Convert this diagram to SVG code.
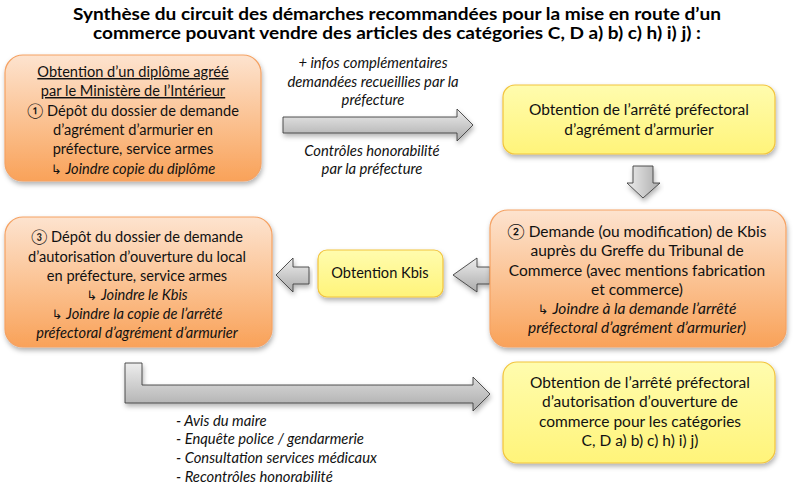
<svg xmlns="http://www.w3.org/2000/svg" width="793" height="489" viewBox="0 0 793 489">
<defs>
<linearGradient id="gOr" x1="0" y1="0" x2="0" y2="1">
<stop offset="0" stop-color="#fde3cf"/>
<stop offset="0.5" stop-color="#fbc394"/>
<stop offset="1" stop-color="#f9a259"/>
</linearGradient>
<linearGradient id="gYe" x1="0" y1="0" x2="0" y2="1">
<stop offset="0" stop-color="#fffcae"/>
<stop offset="1" stop-color="#fff47a"/>
</linearGradient>
<linearGradient id="gAr" x1="0" y1="0" x2="0" y2="1">
<stop offset="0" stop-color="#ededed"/>
<stop offset="1" stop-color="#ababab"/>
</linearGradient>
<linearGradient id="gArV" x1="0" y1="0" x2="1" y2="0">
<stop offset="0" stop-color="#ededed"/>
<stop offset="1" stop-color="#ababab"/>
</linearGradient>
<filter id="sh" x="-10%" y="-10%" width="120%" height="130%">
<feDropShadow dx="1" dy="3" stdDeviation="2.5" flood-color="#000" flood-opacity="0.3"/>
</filter>
</defs>
<style>
.t{font-family:Lato,"Noto Sans","DejaVu Sans",sans-serif;font-size:14.6px;fill:#111;text-anchor:middle}
.b{font-size:15.5px}
.i{font-style:italic}
.s{font-family:Lato,"Noto Sans","DejaVu Sans",sans-serif;font-size:14.8px;font-style:italic;fill:#111}
.ttl{font-family:Lato,"Noto Sans",sans-serif;font-size:17px;font-weight:bold;fill:#000;text-anchor:middle}
.or{fill:url(#gOr);stroke:#f5a263;stroke-width:1.2}
.ye{fill:url(#gYe);stroke:#f2c43d;stroke-width:1.2}
.ar{fill:url(#gAr);stroke:#404040;stroke-width:0.9}
.arv{fill:url(#gArV);stroke:#404040;stroke-width:0.9}
.u{text-decoration:underline}
</style>
<g id="title">
<text class="ttl" x="397" y="20" textLength="648" lengthAdjust="spacingAndGlyphs">Synthèse du circuit des démarches recommandées pour la mise en route d’un</text>
<text class="ttl" x="397" y="39" textLength="608" lengthAdjust="spacingAndGlyphs">commerce pouvant vendre des articles des catégories C, D a) b) c) h) i) j) :</text>
</g>
<g id="connectors">
<path class="ar" d="M283,117 H457 V109 L473,125 L457,141 V133 H283 Z" filter="url(#sh)"/>
<path class="arv" d="M633,166 H653 V183 H660 L643,198 L627,183 H633 Z" filter="url(#sh)"/>
<path class="ar" d="M490,267 H477 V258 L453,275 L477,292 V284 H490 Z" filter="url(#sh)"/>
<path class="ar" d="M309,267 H293 V258 L276,275 L293,292 V284 H309 Z" filter="url(#sh)"/>
<path class="ar" d="M125,363 H142 V385 H473 V377 L490,394 L473,411 V403 H125 Z" filter="url(#sh)"/>
<text class="s" text-anchor="middle" x="373" y="68">+ infos complémentaires</text>
<text class="s" text-anchor="middle" x="373" y="87">demandées recueillies par la</text>
<text class="s" text-anchor="middle" x="373" y="105">préfecture</text>
<text class="s" text-anchor="middle" x="372" y="156">Contrôles honorabilité</text>
<text class="s" text-anchor="middle" x="372" y="174">par la préfecture</text>
<text class="s" x="176" y="426">- Avis du maire</text>
<text class="s" x="176" y="444">- Enquête police / gendarmerie</text>
<text class="s" x="176" y="463">- Consultation services médicaux</text>
<text class="s" x="176" y="482">- Recontrôles honorabilité</text>
</g>
<g id="n1">
<rect class="or" x="5" y="55" width="256" height="126" rx="18" filter="url(#sh)"/>
<text class="t u" x="133" y="77">Obtention d’un diplôme agréé</text>
<text class="t u" x="133" y="96">par le Ministère de l’Intérieur</text>
<text class="t" x="133" y="115.5">① Dépôt du dossier de demande</text>
<text class="t" x="133" y="135">d’agrément d’armurier en</text>
<text class="t" x="133" y="154">préfecture, service armes</text>
<text class="t" x="133" y="173.5"><tspan font-size="13">↳</tspan> <tspan class="i">Joindre copie du diplôme</tspan></text>
</g>
<g id="n2">
<rect class="ye" x="503" y="85" width="272" height="69" rx="12" filter="url(#sh)"/>
<text class="t b" x="639" y="115">Obtention de l’arrêté préfectoral</text>
<text class="t b" x="639" y="135">d’agrément d’armurier</text>
</g>
<g id="n3">
<rect class="or" x="490" y="210" width="296" height="137" rx="18" filter="url(#sh)"/>
<text class="t b" x="637" y="237">② Demande (ou modification) de Kbis</text>
<text class="t b" x="637" y="256">auprès du Greffe du Tribunal de</text>
<text class="t b" x="637" y="276">Commerce (avec mentions fabrication</text>
<text class="t b" x="637" y="295">et commerce)</text>
<text class="t b" x="637" y="314"><tspan font-size="13">↳</tspan> <tspan class="i">Joindre à la demande l’arrêté</tspan></text>
<text class="t b i" x="637" y="333">préfectoral d’agrément d’armurier)</text>
</g>
<g id="n4">
<rect class="ye" x="318" y="250" width="125" height="47" rx="9" filter="url(#sh)"/>
<text class="t" x="380" y="278" font-size="15.3">Obtention Kbis</text>
</g>
<g id="n5">
<rect class="or" x="5" y="217" width="267" height="130" rx="18" filter="url(#sh)"/>
<text class="t" x="137" y="242">③ Dépôt du dossier de demande</text>
<text class="t" x="137" y="261.5">d’autorisation d’ouverture du local</text>
<text class="t" x="137" y="281">en préfecture, service armes</text>
<text class="t" x="137" y="300"><tspan font-size="13">↳</tspan> <tspan class="i">Joindre le Kbis</tspan></text>
<text class="t" x="137" y="319"><tspan font-size="13">↳</tspan> <tspan class="i">Joindre la copie de l’arrêté</tspan></text>
<text class="t i" x="137" y="338">préfectoral d’agrément d’armurier</text>
</g>
<g id="n6">
<rect class="ye" x="503" y="362" width="272" height="101" rx="14" filter="url(#sh)"/>
<text class="t b" x="640" y="388">Obtention de l’arrêté préfectoral</text>
<text class="t b" x="640" y="407">d’autorisation d’ouverture de</text>
<text class="t b" x="640" y="427">commerce pour les catégories</text>
<text class="t b" x="640" y="446">C, D a) b) c) h) i) j)</text>
</g>
</svg>
